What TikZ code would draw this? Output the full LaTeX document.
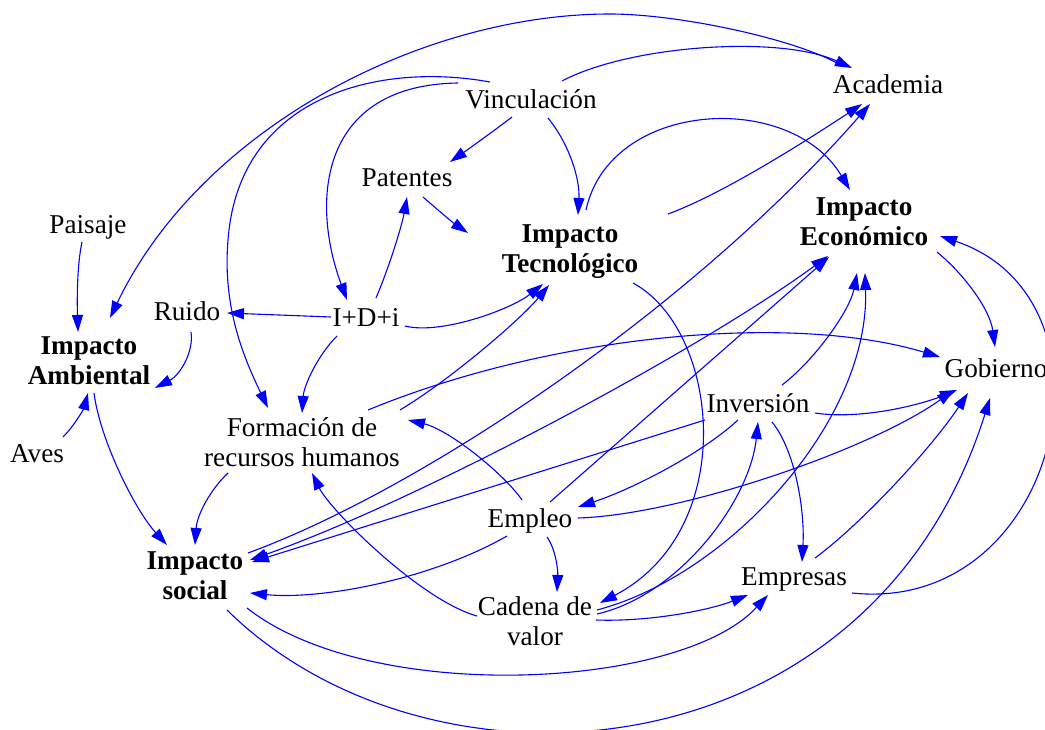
\documentclass[tikz,border=0pt]{standalone}
\usepackage{fontspec}
\setmainfont{Liberation Serif}
\usetikzlibrary{arrows.meta,calc}
\begin{document}
\begin{tikzpicture}[x=1pt,y=-1pt,
  var/.style={inner sep=4pt, align=center, font=\fontsize{27.2pt}{30pt}\selectfont},
  key/.style={var, font=\fontsize{27.2pt}{30pt}\selectfont\bfseries},
  link/.style={draw=blue, line width=1.1pt, -{Triangle[length=17pt,width=11pt]}},
  both/.style={draw=blue, line width=1.1pt, {Triangle[length=17pt,width=11pt]}-{Triangle[length=17pt,width=11pt]}}]
\useasboundingbox (0,0) rectangle (1045,730);

% variables
\node[var] (acad)   at (888,84)  {Academia};
\node[var] (vinc)   at (531,99)  {Vinculación};
\node[var] (pat)    at (407,178) {Patentes};
\node[key] (itec)   at (570,252) {Impacto\\Tecnológico};
\node[key] (ieco)   at (864,222) {Impacto\\Económico};
\node[var] (pais)   at (88,227)  {Paisaje};
\node[var] (ruido)  at (187,311) {Ruido};
\node[var] (idi)    at (366,318) {I+D+i};
\node[key] (iamb)   at (89,361)  {Impacto\\Ambiental};
\node[var] (gob)    at (996,368) {Gobierno};
\node[var] (inv)    at (758,403) {Inversión};
\node[var] (frh)    at (302,442) {Formación de\\recursos humanos};
\node[var] (aves)   at (37,454)  {Aves};
\node[var] (empleo) at (530,521) {Empleo};
\node[key] (isoc)   at (195,576) {Impacto\\social};
\node[var] (empr)   at (794,579) {Empresas};
\node[var] (cad)    at (535,621) {Cadena de\\valor};

% causal links
\draw[link] ($(acad)+(-46,-18)$) .. controls (800,40) and (680,14) .. (610,14)
            .. controls (420,14) and (200,130) .. ($(iamb)+(21,-43)$);
\draw[link] ($(vinc)+(31,-18)$) .. controls (630,45) and (780,35) .. ($(acad)+(-36,-16)$);
\draw[link] ($(vinc)+(-41,-17)$) .. controls (380,62) and (245,95) .. (229,230)
            .. controls (220.5,301.5) and (242,354) .. ($(frh)+(-34,-34)$);
\draw[link] ($(vinc)+(-73,-16)$) .. controls (320,85) and (310,200) .. ($(idi)+(-19,-18)$);
\draw[link] ($(vinc)+(-19,18)$) .. controls (495,130) and (470,148) .. ($(pat)+(43,-16)$);
\draw[link] ($(vinc)+(17,19)$) .. controls (570,145) and (580,180) .. ($(itec)+(8,-37)$);
\draw[link] ($(pat)+(16,19)$) .. controls (438,210) and (452,222) .. ($(itec)+(-102,-19)$);
\draw[link] ($(idi)+(10,-20)$) .. controls (390,265) and (402,225) .. ($(pat)+(0,19)$);
\draw[link] ($(idi)+(-35,-1)$) -- ($(ruido)+(40,2)$);
\draw[link] ($(idi)+(39,8)$) .. controls (440,335) and (510,310) .. ($(itec)+(-27,32)$);
\draw[link] ($(idi)+(-29,18)$) .. controls (318,355) and (304,385) .. ($(frh)+(0,-29)$);
\draw[link] ($(ruido)+(4,21)$) .. controls (194,352) and (180,375) .. ($(iamb)+(66,27)$);
\draw[link] ($(pais)+(-6,15)$) .. controls (77,265) and (77,300) .. ($(iamb)+(-11,-29)$);
\draw[link] ($(aves)+(26,-17)$) .. controls (75,425) and (84,408) .. ($(iamb)+(-1,32)$);
\draw[link] ($(iamb)+(5,32)$) .. controls (100,440) and (135,510) .. ($(isoc)+(-28,-31)$);
\draw[link] ($(frh)+(-74,31)$) .. controls (210,490) and (197,515) .. ($(isoc)+(0,-31)$);
\draw[link] ($(frh)+(66,-32)$) .. controls (550,335) and (790,312) .. ($(gob)+(-56,-11)$);
\draw[link] ($(frh)+(98,-32)$) .. controls (450,380) and (520,320) .. ($(itec)+(-21,33)$);
\draw[link] ($(empleo)+(-8,-21)$) .. controls (505,475) and (450,430) .. ($(frh)+(106,-22)$);
\draw[link] ($(cad)+(-58,-5)$) .. controls (420,600) and (330,510) .. ($(frh)+(10,31)$);
\draw[link] ($(isoc)+(53,-23)$) .. controls (420,490) and (690,310) .. ($(acad)+(-18,20)$);
\draw[both] ($(isoc)+(55,-16)$) .. controls (420,500) and (700,350) .. ($(ieco)+(-36,34)$);
\draw[link] ($(inv)+(-53,17)$) -- ($(isoc)+(57,-14)$);
\draw[link] ($(empleo)+(20,-19)$) -- ($(ieco)+(-35,35)$);
\draw[link] ($(itec)+(16,-42)$) .. controls (610,100) and (790,90) .. ($(ieco)+(-14,-32)$);
\draw[link] ($(itec)+(98,-38)$) .. controls (720,195) and (800,145) .. ($(acad)+(-26,20)$);
\draw[link] ($(itec)+(63,31)$) .. controls (720,330) and (740,530) .. ($(cad)+(65,-18)$);
\draw[link] ($(ieco)+(73,30)$) .. controls (965,275) and (990,310) .. ($(gob)+(-1,-21)$);
\draw[link] ($(empr)+(58,14)$) .. controls (1060,615) and (1130,300) .. ($(ieco)+(76,14)$);
\draw[link] ($(inv)+(57,10)$) .. controls (860,420) and (920,405) .. ($(gob)+(-39,22)$);
\draw[link] ($(empleo)+(48,-3)$) .. controls (680,515) and (870,450) .. ($(gob)+(-42,22)$);
\draw[link] ($(empr)+(21,-21)$) .. controls (860,525) and (930,450) .. ($(gob)+(-28,25)$);
\draw[link] ($(isoc)+(32,34)$) .. controls (430,810) and (870,780) .. ($(gob)+(-6,30)$);
\draw[link] ($(isoc)+(52,32)$) .. controls (370,705) and (680,690) .. ($(empr)+(-26,16)$);
\draw[link] ($(cad)+(61,-1)$) .. controls (650,622) and (710,610) .. ($(empr)+(-46,16)$);
\draw[link] ($(cad)+(62,-7)$) .. controls (680,595) and (750,500) .. ($(inv)+(0,19)$);
\draw[link] ($(cad)+(62,-11)$) .. controls (730,575) and (870,420) .. ($(ieco)+(1,51)$);
\draw[link] ($(inv)+(24,-18)$) .. controls (815,360) and (850,310) .. ($(ieco)+(-7,51)$);
\draw[link] ($(inv)+(-20,17)$) .. controls (700,455) and (630,490) .. ($(empleo)+(48,-14)$);
\draw[link] ($(inv)+(14,19)$) .. controls (795,450) and (805,510) .. ($(empr)+(8,-17)$);
\draw[link] ($(empleo)+(17,16)$) .. controls (556,550) and (558,570) .. ($(cad)+(22,-29)$);
\draw[link] ($(empleo)+(-23,15)$) .. controls (430,580) and (320,600) .. ($(isoc)+(55,17)$);
\end{tikzpicture}
\end{document}
